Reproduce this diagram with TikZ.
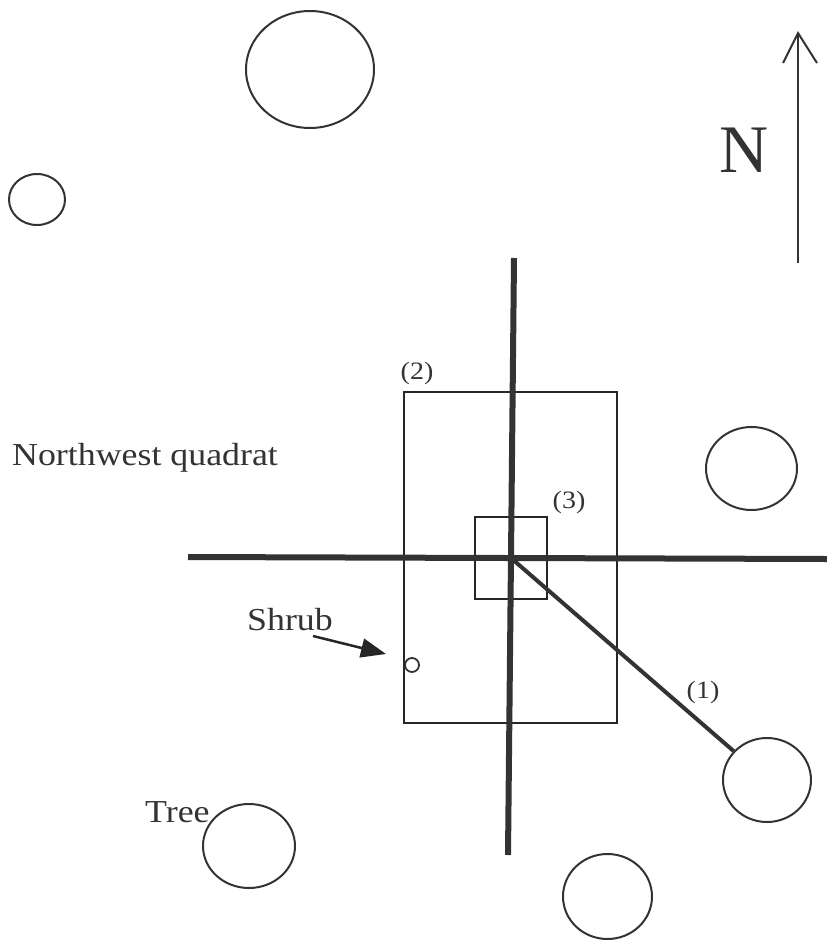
\documentclass[tikz,border=0pt]{standalone}
\usepackage{fontspec}
\setmainfont{Liberation Serif}[FakeStretch=1.12]
\newfontfamily\nfont{Liberation Serif}
\usetikzlibrary{shapes.geometric,arrows.meta}
\tikzset{
  tree/.style={draw=black!80, line width=2pt, ellipse, inner sep=0pt},
  plot/.style={draw=black!85, line width=1.8pt},
  axis/.style={draw=black!80, line width=6pt},
  tape/.style={draw=black!80, line width=4pt},
  lbl/.style={inner sep=0pt, text=black!80, font=\fontsize{32}{36}\selectfont},
  num/.style={inner sep=0pt, text=black!80, font=\fontsize{25}{28}\selectfont},
}
\begin{document}
\begin{tikzpicture}[x=1pt,y=-1pt]
\useasboundingbox (0,0) rectangle (827,940);
% trees
\node[tree, minimum width=128pt, minimum height=117pt] (t1) at (310,69.5) {};
\node[tree, minimum width=56pt, minimum height=51pt] (t2) at (37,199.5) {};
\node[tree, minimum width=91pt, minimum height=83pt] (t3) at (751.5,468.5) {};
\node[tree, minimum width=88pt, minimum height=84pt] (t4) at (767,780) {};
\node[tree, minimum width=92pt, minimum height=84pt] (t5) at (249,846) {};
\node[tree, minimum width=89pt, minimum height=85pt] (t6) at (607.5,896.5) {};
% shrub
\node[tree, line width=1.8pt, circle, minimum size=14pt] (shrub) at (412,665) {};
% plots
\node[plot, rectangle, inner sep=0pt, minimum width=213pt, minimum height=331pt] (p2) at (510.5,557.5) {};
\node[plot, rectangle, inner sep=0pt, minimum width=72pt, minimum height=82pt] (p3) at (511,558) {};
% axes
\coordinate (ntop) at (514,258);
\coordinate (nbot) at (508,855);
\coordinate (wend) at (188,557);
\coordinate (eend) at (827,559);
\coordinate (ctr) at (511,558);
\draw[axis] (ntop) -- (nbot);
\draw[axis] (wend) -- (eend);
\draw[tape] (ctr) -- (t4);
% north arrow
\coordinate (ab) at (798,263);
\coordinate (at) at (798,33);
\coordinate (al) at (783,63);
\coordinate (ar) at (817,63);
\draw[black!80, line width=2pt] (ab) -- (at);
\draw[black!80, line width=2pt, line join=miter] (al) -- (at) -- (ar);
\node[inner sep=0pt, anchor=base west, text=black!80, font=\nfont\fontsize{68}{72}\selectfont] (nlab) at (719,172) {N};
% labels
\node[lbl, anchor=base west] (nw) at (12,465) {Northwest quadrat};
\node[lbl, anchor=base west] (treelab) at (145,822) {Tree};
\node[lbl, anchor=base west] (shrublab) at (247,630) {Shrub};
\node[num] (l2) at (417,373) {(2)};
\node[num] (l3) at (569,502) {(3)};
\node[num] (l1) at (703,692) {(1)};
\coordinate (sa) at (313,636);
\coordinate (sb) at (386,654);
\draw[black!85, line width=2.5pt, -{Triangle[length=25pt,width=19pt]}] (sa) -- (sb);
\end{tikzpicture}
\end{document}
